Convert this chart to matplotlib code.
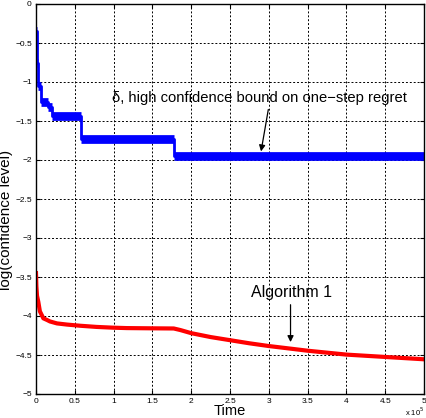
import matplotlib
matplotlib.use("Agg")
import matplotlib.pyplot as plt
from matplotlib.ticker import FuncFormatter, MultipleLocator

plt.rcParams['font.family'] = ['Liberation Sans', 'DejaVu Sans']

# Step bound (blue): change points in time and level after each change
bound_t = [0, 1000, 3000, 7000, 16000, 20000, 58500, 178000, 500000]
bound_v = [-0.35, -0.75, -1.05, -1.26, -1.32, -1.43, -1.73, -1.955, -1.955]

# Algorithm 1 (red)
alg_t = [0, 500, 1300, 3000, 5000, 9500, 14000, 18000, 27000, 40000, 57000,
         78000, 100000, 117000, 150000, 177500, 186000, 200000, 225000,
         250000, 275000, 300000, 325000, 350000, 375000, 400000, 425000,
         450000, 475000, 500000]
alg_v = [-3.45, -3.62, -3.74, -3.82, -3.94, -4.03, -4.05, -4.07, -4.095,
         -4.11, -4.125, -4.14, -4.15, -4.155, -4.158, -4.16, -4.18, -4.22,
         -4.27, -4.31, -4.35, -4.385, -4.415, -4.445, -4.47, -4.495, -4.51,
         -4.525, -4.54, -4.555]

fig = plt.figure(figsize=(4.26, 4.18), dpi=100)
ax = fig.add_axes([36 / 426, 1 - 394 / 418, 388 / 426, 390 / 418])

# thin verticals + thick horizontal levels, like the original render
ax.step(bound_t, bound_v, where='post', color='#0000ff', linewidth=2)
ax.hlines(bound_v[:-1], bound_t[:-1], bound_t[1:], color='#0000ff', linewidth=6.3)

ax.plot(alg_t, alg_v, color='#ff0000', linewidth=3)

ax.text(98000, -1.205, "δ, high confidence bound on one−step regret",
        fontsize=10.6, ha='left', va='center')
ax.annotate("", xy=(289400, -1.925), xytext=(300000, -1.317),
            arrowprops=dict(arrowstyle='-|>', color='black', lw=0.9,
                            mutation_scale=9))

ax.text(276500, -3.70, "Algorithm 1", fontsize=11.5, ha='left', va='center')
ax.annotate("", xy=(328000, -4.37), xytext=(328000, -3.82),
            arrowprops=dict(arrowstyle='-|>', color='black', lw=0.9,
                            mutation_scale=9))

ax.set_xlim(0, 500000)
ax.set_ylim(-5, 0)
ax.xaxis.set_major_locator(MultipleLocator(50000))
ax.yaxis.set_major_locator(MultipleLocator(0.5))
ax.xaxis.set_major_formatter(FuncFormatter(lambda v, p: f"{v / 1e5:g}"))
ax.yaxis.set_major_formatter(FuncFormatter(lambda v, p: f"{v:g}".replace("-", "\u2212")))

ax.tick_params(direction='in', length=3, width=0.8, labelsize=6, pad=3,
               top=True, right=True)
ax.grid(True, color='black', linestyle=(0, (2, 2)), linewidth=0.7)
for s in ax.spines.values():
    s.set_linewidth(1.0)

ax.set_xlabel("Time", fontsize=10.5, labelpad=0, va='baseline')
ax.xaxis.set_label_coords(0.5, -0.0535)
ax.set_ylabel("log(confidence level)", fontsize=11)
ax.yaxis.set_label_coords(-0.058, 0.446)

ax.text(1.0, -0.057, r"x 10$^5$", transform=ax.transAxes, fontsize=5.5,
        ha='right', va='baseline')

fig.savefig("out.png", dpi=100)
